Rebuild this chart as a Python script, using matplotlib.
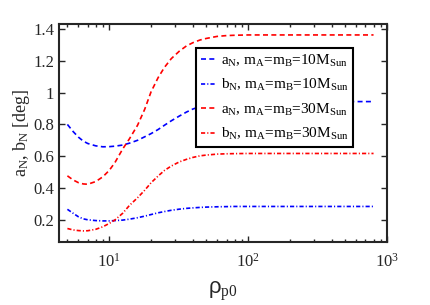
import matplotlib
matplotlib.use("Agg")
import matplotlib.pyplot as plt
from matplotlib.ticker import LogLocator, NullFormatter

plt.rcParams['font.family'] = ['Liberation Serif', 'DejaVu Serif']
plt.rcParams['mathtext.fontset'] = 'custom'
plt.rcParams['mathtext.rm'] = 'Liberation Serif'
plt.rcParams['mathtext.it'] = 'Liberation Serif:italic'
plt.rcParams['mathtext.sf'] = 'Liberation Sans'
plt.rcParams['lines.scale_dashes'] = False

rho = [5, 5.5, 6, 6.5, 7, 8, 9, 10, 11, 12.5, 14, 16, 18, 20, 22.5, 25, 28, 32, 36,
       40, 45, 50, 60, 70, 80, 100, 150, 200, 300, 500, 800]

aN_10 = [0.80, 0.755, 0.72, 0.695, 0.68, 0.665, 0.659, 0.66, 0.663, 0.670, 0.682, 0.70,
         0.722, 0.742, 0.768, 0.795, 0.823, 0.853, 0.878, 0.897, 0.912, 0.922, 0.933,
         0.938, 0.941, 0.943, 0.944, 0.944, 0.944, 0.944, 0.944]
bN_10 = [0.265, 0.24, 0.218, 0.205, 0.199, 0.194, 0.192, 0.192, 0.194, 0.197, 0.203, 0.212,
         0.222, 0.232, 0.243, 0.251, 0.259, 0.266, 0.271, 0.274, 0.277, 0.279, 0.281,
         0.282, 0.283, 0.283, 0.283, 0.283, 0.283, 0.283, 0.283]
aN_30 = [0.476, 0.45, 0.433, 0.425, 0.423, 0.44, 0.47, 0.51, 0.56, 0.645, 0.71, 0.795,
         0.895, 1.005, 1.095, 1.16, 1.215, 1.262, 1.295, 1.315, 1.332, 1.342, 1.355,
         1.36, 1.362, 1.364, 1.364, 1.364, 1.364, 1.364, 1.364]
bN_30 = [0.144, 0.135, 0.131, 0.129, 0.13, 0.139, 0.155, 0.176, 0.198, 0.24, 0.29, 0.338,
         0.385, 0.432, 0.475, 0.51, 0.538, 0.564, 0.58, 0.592, 0.602, 0.607, 0.613,
         0.615, 0.616, 0.617, 0.617, 0.617, 0.617, 0.617, 0.617]

labels = [r'a$_\mathrm{N}$, m$_\mathrm{A}$=m$_\mathrm{B}$=10M$_\mathrm{Sun}$',
          r'b$_\mathrm{N}$, m$_\mathrm{A}$=m$_\mathrm{B}$=10M$_\mathrm{Sun}$',
          r'a$_\mathrm{N}$, m$_\mathrm{A}$=m$_\mathrm{B}$=30M$_\mathrm{Sun}$',
          r'b$_\mathrm{N}$, m$_\mathrm{A}$=m$_\mathrm{B}$=30M$_\mathrm{Sun}$']

fig = plt.figure(figsize=(4.31, 3.05), dpi=100)
ax = fig.add_axes([59/431, 1-242/305, 328/431, 218/305])

dash = (0, (3.6, 2.4))
dashdot = (0, (3.0, 1.5, 0.8, 1.5))
lw = 1.2
ax.plot(rho, aN_10, color='blue', lw=lw, linestyle=dash, label=labels[0])
ax.plot(rho, bN_10, color='blue', lw=lw, linestyle=dashdot, label=labels[1])
ax.plot(rho, aN_30, color='red', lw=lw, linestyle=dash, label=labels[2])
ax.plot(rho, bN_30, color='red', lw=lw, linestyle=dashdot, label=labels[3])

ax.set_xscale('log')
ax.set_xlim(4.35, 1000)
ax.set_ylim(0.059, 1.433)
ax.set_yticks([0.2, 0.4, 0.6, 0.8, 1.0, 1.2, 1.4])
ax.set_yticklabels(['0.2', '0.4', '0.6', '0.8', '1', '1.2', '1.4'])
ax.xaxis.set_major_locator(LogLocator(base=10, numticks=10))
ax.xaxis.set_minor_locator(LogLocator(base=10, subs=range(2, 10), numticks=20))
ax.xaxis.set_minor_formatter(NullFormatter())

for s in ax.spines.values():
    s.set_linewidth(1.5)
    s.set_color('#262626')
ax.tick_params(which='both', direction='in', top=True, right=True, colors='#262626',
               labelsize=12, width=1.0)
ax.tick_params(which='major', length=4)
ax.tick_params(which='minor', length=2.5)
ax.tick_params(axis='x', which='major', pad=8)

ax.set_ylabel(r'a$_\mathrm{N}$, b$_\mathrm{N}$ [deg]', fontsize=13, color='#262626', labelpad=1)
ax.set_xlabel(r'$\mathsf{\rho}_\mathrm{p0}$', fontsize=16, color='#262626', labelpad=6)

leg = ax.legend(loc='upper left', bbox_to_anchor=((196-59)/328, 1-(48-24)/218),
                borderaxespad=0, fontsize=11, fancybox=False, framealpha=1,
                edgecolor='black', handlelength=1.0, handletextpad=0.35,
                labelspacing=0.55, borderpad=0.3)
leg.get_frame().set_linewidth(1.5)

fig.savefig('out.png', dpi=100)
